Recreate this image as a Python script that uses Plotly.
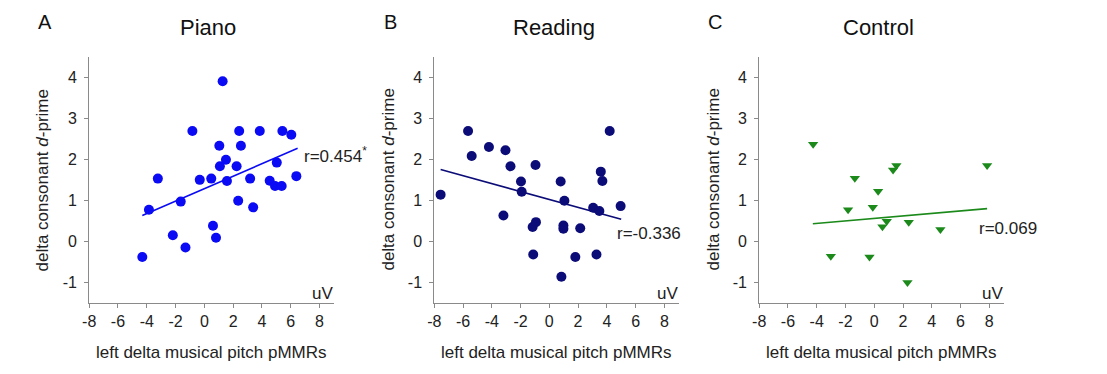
import plotly.graph_objects as go

# ---------------- data ----------------
piano_x = [-4.31, -3.85, -3.23, -2.19, -1.64, -1.31, -0.83, -0.32, 0.48, 0.60, 0.81, 1.04, 1.08,
           1.27, 1.50, 1.57, 2.24, 2.35, 2.42, 2.54, 3.18, 3.39, 3.85, 4.54, 4.91, 5.03, 5.37,
           5.42, 6.04, 6.39]
piano_y = [-0.38, 0.77, 1.53, 0.15, 0.97, -0.15, 2.69, 1.50, 1.53, 0.38, 0.09, 2.33, 1.83,
           3.90, 1.99, 1.47, 1.83, 0.99, 2.69, 2.33, 1.53, 0.83, 2.69, 1.48, 1.35, 1.92, 1.35,
           2.69, 2.60, 1.59]
piano_fit_x = [-4.31, 6.48]
piano_fit_y = [0.63, 2.27]

reading_x = [-7.56, -5.65, -5.40, -4.20, -3.19, -3.05, -2.70, -1.97, -1.92, -1.16, -1.12, -0.96,
             -0.93, 0.79, 0.84, 0.98, 0.98, 1.05, 1.81, 2.15, 3.05, 3.28, 3.48, 3.58, 3.69, 4.20,
             4.96]
reading_y = [1.14, 2.69, 2.08, 2.30, 0.63, 2.22, 1.83, 1.46, 1.21, 0.35, -0.32, 1.86, 0.47,
             1.46, -0.86, 0.39, 0.31, 0.99, -0.38, 0.32, 0.82, -0.32, 0.74, 1.70, 1.47, 2.69,
             0.86]
reading_fit_x = [-7.56, 5.00]
reading_fit_y = [1.75, 0.54]

control_x = [-4.25, -3.02, -1.82, -1.35, -0.33, -0.10, 0.27, 0.57, 0.87, 1.31, 1.54, 2.40, 2.31,
             4.60, 7.85]
control_y = [2.37, -0.36, 0.77, 1.54, -0.38, 0.83, 1.22, 0.36, 0.49, 1.74, 1.85, 0.47, -1.00,
             0.29, 1.85]
control_fit_x = [-4.27, 7.85]
control_fit_y = [0.43, 0.80]

panel_titles = ["Piano", "Reading", "Control"]
panel_letters = ["A", "B", "C"]
r_labels = ["r=0.454<sup>*</sup>", "r=-0.336", "r=0.069"]
x_tick_vals = [-8, -6, -4, -2, 0, 2, 4, 6, 8]
x_tick_text = ["-8", "-6", "-4", "-2", "0", "2", "4", "6", "8"]
y_tick_vals = [-1, 0, 1, 2, 3, 4]
y_tick_text = ["-1", "0", "1", "2", "3", "4"]
x_title = "left delta musical pitch pMMRs"
y_title = "delta consonant <i>d</i>-prime"
unit_label = "uV"

# ---------------- styling ----------------
W, H = 1107, 374
colors = ["#0a0af5", "#0c0c78", "#1b8a1b"]
symbols = ["circle", "circle", "triangle-down"]
msizes = [10, 10, 9]
px_bounds = [(82.7, 329.0), (430.0, 676.0), (757.0, 1003.0)]
py_top, py_bot = 56.7, 303.0
FONT = "Liberation Sans, Arial, sans-serif"
TXT = "#222222"

datasets = [(piano_x, piano_y, piano_fit_x, piano_fit_y),
            (reading_x, reading_y, reading_fit_x, reading_fit_y),
            (control_x, control_y, control_fit_x, control_fit_y)]

fig = go.Figure()
annotations = []
y_dom = [1 - py_bot / H, 1 - py_top / H]

for i, ((xs, ys, fx, fy), col, sym, ms, (xl, xr)) in enumerate(
        zip(datasets, colors, symbols, msizes, px_bounds)):
    n = "" if i == 0 else str(i + 1)
    xa, ya = "x" + n, "y" + n
    fig.add_trace(go.Scatter(x=fx, y=fy, mode="lines",
                             line=dict(color=col, width=1.6), xaxis=xa, yaxis=ya,
                             showlegend=False, hoverinfo="skip"))
    fig.add_trace(go.Scatter(x=xs, y=ys, mode="markers",
                             marker=dict(color=col, size=ms, symbol=sym, line=dict(width=0)),
                             xaxis=xa, yaxis=ya, showlegend=False))

    axcommon = dict(showline=True, linecolor="#8a8a8a", linewidth=1, ticks="outside",
                    ticklen=4, tickcolor="#8a8a8a", showgrid=False, zeroline=False,
                    tickfont=dict(family=FONT, size=16, color=TXT), fixedrange=True)
    fig.update_layout(**{
        "xaxis" + n: dict(domain=[xl / W, xr / W], range=[-8, 9], tickvals=x_tick_vals,
                          ticktext=x_tick_text, anchor=ya, **axcommon),
        "yaxis" + n: dict(domain=y_dom, range=[-1.5, 4.5], tickvals=y_tick_vals,
                          ticktext=y_tick_text, anchor=xa, ticklabelstandoff=4, **axcommon),
    })

    annotations.append(dict(text=x_title, xref="paper", yref="paper",
                            x=(xl + 123) / W, y=1 - 352 / H, showarrow=False,
                            font=dict(family=FONT, size=17, color=TXT),
                            xanchor="center", yanchor="middle"))
    annotations.append(dict(text=y_title, xref="paper", yref="paper",
                            x=(xl - 46) / W, y=1 - 180 / H, showarrow=False, textangle=-90,
                            font=dict(family=FONT, size=17, color=TXT),
                            xanchor="center", yanchor="middle"))
    annotations.append(dict(text=panel_titles[i], xref="paper", yref="paper",
                            x=(xl + 120) / W, y=1 - 28 / H, showarrow=False,
                            font=dict(family=FONT, size=22, color="#111111"),
                            xanchor="center", yanchor="middle"))
    annotations.append(dict(text=panel_letters[i], xref="paper", yref="paper",
                            x=(xl - 44) / W, y=1 - 22 / H, showarrow=False,
                            font=dict(family=FONT, size=20, color="#111111"),
                            xanchor="center", yanchor="middle"))
    annotations.append(dict(text=unit_label, xref="paper", yref="paper",
                            x=(xr - 11) / W, y=1 - 293 / H, showarrow=False,
                            font=dict(family=FONT, size=17, color=TXT),
                            xanchor="center", yanchor="middle"))

r_pos = [(297, 155), (612, 233), (976, 228)]
for lbl, (rx, ry) in zip(r_labels, r_pos):
    annotations.append(dict(text=lbl, xref="paper", yref="paper", x=rx / W, y=1 - ry / H,
                            showarrow=False, font=dict(family=FONT, size=17, color=TXT),
                            xanchor="left", yanchor="middle"))

fig.update_layout(width=W, height=H, margin=dict(l=0, r=0, t=0, b=0),
                  paper_bgcolor="white", plot_bgcolor="white",
                  annotations=annotations, font=dict(family=FONT))

fig.write_html("out.html", config={"displayModeBar": False},
               post_script="document.body.style.margin='0';"
                           "document.body.style.overflow='hidden';")
